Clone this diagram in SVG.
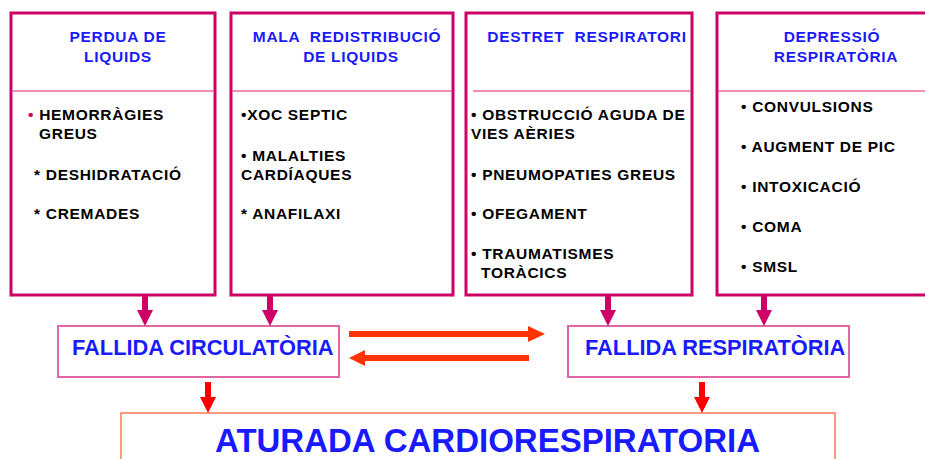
<svg xmlns="http://www.w3.org/2000/svg" width="925" height="459" viewBox="0 0 925 459">
<style>
.box{fill:#fff;stroke:#cc0066;stroke-width:3}
.div{stroke:#e8669e;stroke-width:1.5}
.t{font-family:"Liberation Sans",Arial,sans-serif;font-weight:bold;font-size:15.5px;fill:#1a1aff;letter-spacing:0.7px;white-space:pre}
.b{font-family:"Liberation Sans",Arial,sans-serif;font-weight:bold;font-size:15.5px;fill:#000;letter-spacing:0.7px;white-space:pre}
.fbox{fill:#fff;stroke:#e066a6;stroke-width:2}
.ft{font-family:"Liberation Sans",Arial,sans-serif;font-weight:bold;font-size:21.8px;fill:#1a1aff}
.mag{stroke:#cc0066;stroke-width:6;fill:none}
.org{stroke:#ff3300;stroke-width:6;fill:none}
.red{stroke:#ff0000;stroke-width:6;fill:none}
</style>
<rect width="925" height="459" fill="#fff"/>
<g id="perdua">
<rect class="box" x="11" y="13" width="204" height="282"/>
<line class="div" x1="12" y1="91" x2="214" y2="91"/>
<text class="t" x="118" y="42" text-anchor="middle">PERDUA DE</text>
<text class="t" x="118" y="62" text-anchor="middle">LIQUIDS</text>
<text class="b" x="28" y="120"><tspan fill="#cc0066">•</tspan> HEMORRÀGIES</text>
<text class="b" x="39" y="139">GREUS</text>
<text class="b" x="34" y="180">* DESHIDRATACIÓ</text>
<text class="b" x="34" y="219">* CREMADES</text>
</g>
<g id="mala">
<rect class="box" x="231" y="13" width="222" height="282"/>
<line class="div" x1="232" y1="91" x2="452" y2="91"/>
<text class="t" x="347" y="42" text-anchor="middle">MALA  REDISTRIBUCIÓ</text>
<text class="t" x="351" y="62" text-anchor="middle">DE LIQUIDS</text>
<text class="b" x="241" y="120">•XOC SEPTIC</text>
<text class="b" x="241" y="161">• MALALTIES</text>
<text class="b" x="241" y="180">CARDÍAQUES</text>
<text class="b" x="241" y="219">* ANAFILAXI</text>
</g>
<g id="destret">
<rect class="box" x="466" y="13" width="226" height="282"/>
<line class="div" x1="473" y1="91" x2="691" y2="91"/>
<text class="t" x="587" y="42" text-anchor="middle">DESTRET  RESPIRATORI</text>
<text class="b" x="471" y="120">• OBSTRUCCIÓ AGUDA DE</text>
<text class="b" x="471" y="139">VIES AÈRIES</text>
<text class="b" x="471" y="180">• PNEUMOPATIES GREUS</text>
<text class="b" x="471" y="219">• OFEGAMENT</text>
<text class="b" x="471" y="259">• TRAUMATISMES</text>
<text class="b" x="481" y="278">TORÀCICS</text>
</g>
<g id="depressio">
<rect class="box" x="717" y="13" width="220" height="282"/>
<line class="div" x1="718" y1="91" x2="925" y2="91"/>
<text class="t" x="832" y="42" text-anchor="middle">DEPRESSIÓ</text>
<text class="t" x="836" y="62" text-anchor="middle">RESPIRATÒRIA</text>
<text class="b" x="741" y="112">• CONVULSIONS</text>
<text class="b" x="741" y="152">• AUGMENT DE PIC</text>
<text class="b" x="741" y="192">• INTOXICACIÓ</text>
<text class="b" x="741" y="232">• COMA</text>
<text class="b" x="741" y="272">• SMSL</text>
</g>
<g id="fallida-circ">
<rect class="fbox" x="58" y="326" width="281" height="51"/>
<text class="ft" x="72" y="355">FALLIDA CIRCULATÒRIA</text>
</g>
<g id="fallida-resp">
<rect class="fbox" x="568" y="326" width="281" height="51"/>
<text class="ft" x="585" y="355">FALLIDA RESPIRATÒRIA</text>
</g>
<g id="aturada">
<rect x="121" y="413" width="714" height="60" fill="#fff" stroke="#ff7755" stroke-width="1.5"/>
<text x="215" y="452" font-family="'Liberation Sans',Arial,sans-serif" font-weight="bold" font-size="33" fill="#1a1aff">ATURADA CARDIORESPIRATORIA</text>
</g>
<g id="connectors">
<line class="mag" x1="145" y1="295" x2="145" y2="312"/>
<polygon points="137,310 153,310 145,326" fill="#cc0066"/>
<line class="mag" x1="270" y1="295" x2="270" y2="312"/>
<polygon points="262,310 278,310 270,326" fill="#cc0066"/>
<line class="mag" x1="608" y1="295" x2="608" y2="312"/>
<polygon points="600,310 616,310 608,326" fill="#cc0066"/>
<line class="mag" x1="764" y1="295" x2="764" y2="312"/>
<polygon points="756,310 772,310 764,326" fill="#cc0066"/>
<line class="org" x1="349" y1="334" x2="530" y2="334"/>
<polygon points="528,326 545,334 528,342" fill="#ff3300"/>
<line class="org" x1="529" y1="358" x2="363" y2="358"/>
<polygon points="365,350 349,358 365,366" fill="#ff3300"/>
<line class="red" x1="208" y1="382" x2="208" y2="399"/>
<polygon points="200,397 216,397 208,413" fill="#ff0000"/>
<line class="red" x1="702" y1="382" x2="702" y2="399"/>
<polygon points="694,397 710,397 702,413" fill="#ff0000"/>
</g>
</svg>
